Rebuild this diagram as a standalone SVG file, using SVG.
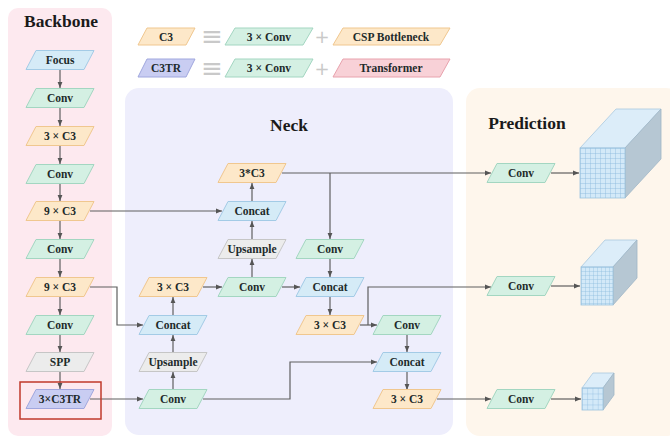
<svg xmlns="http://www.w3.org/2000/svg" xmlns:xlink="http://www.w3.org/1999/xlink" width="670" height="439" viewBox="0 0 670 439">
<style>
.panel-bb{fill:#fde9ef}
.panel-neck{fill:#eeeefc}
.panel-pred{fill:#fef6ec}
.title{font-family:"Liberation Serif","Times New Roman",serif;font-weight:bold;font-size:17.5px;fill:#1a1a1a;text-anchor:middle}
.lbl{font-family:"Liberation Serif","Times New Roman",serif;font-weight:bold;font-size:11.5px;fill:#1e2b2b;text-anchor:middle;dominant-baseline:central}
.sym{font-family:"DejaVu Sans",sans-serif;fill:#c9c9c9;text-anchor:middle;dominant-baseline:central}
.conv{fill:#d4f0e3;stroke:#a3d6c1;stroke-width:1}
.c3{fill:#fde8c9;stroke:#f0c78f;stroke-width:1}
.blue{fill:#d5ebf7;stroke:#a3cbe6;stroke-width:1}
.gray{fill:#ececec;stroke:#c6c6c6;stroke-width:1}
.c3tr{fill:#c9cdf2;stroke:#a0a7de;stroke-width:1}
.trans{fill:#f8d1d7;stroke:#e8a2ad;stroke-width:1}
.edge{fill:none;stroke:#5f5f5f;stroke-width:1.2;marker-end:url(#arr)}
.top{fill:#dcedf9;stroke:#a9c9e0;stroke-width:0.8}
.side{fill:#b6c7d3;stroke:#a0b6c6;stroke-width:0.8}
</style>
<defs>
<path id="pg" d="M-24,-9.5 H34 L24,9.5 H-34 Z"/>
<marker id="arr" viewBox="0 0 10 10" refX="10" refY="5" markerWidth="6" markerHeight="6" markerUnits="userSpaceOnUse" orient="auto">
<path d="M0,1 L10,5 L0,9 Z" fill="#555"/>
</marker>
<pattern id="gridL" x="580" y="148" width="5" height="5" patternUnits="userSpaceOnUse">
<rect width="5" height="5" fill="#d3e9f8"/>
<path d="M0,0 H5 M0,0 V5" stroke="#86b6dc" stroke-width="0.8" fill="none"/>
</pattern>
<pattern id="gridM" x="581" y="267" width="4" height="4" patternUnits="userSpaceOnUse">
<rect width="4" height="4" fill="#d3e9f8"/>
<path d="M0,0 H4 M0,0 V4" stroke="#86b6dc" stroke-width="0.7" fill="none"/>
</pattern>
<pattern id="gridS" x="582" y="388" width="5.25" height="5.5" patternUnits="userSpaceOnUse">
<rect width="5.25" height="5.5" fill="#d3e9f8"/>
<path d="M0,0 H5.25 M0,0 V5.5" stroke="#86b6dc" stroke-width="0.7" fill="none"/>
</pattern>
</defs>

<g id="panels">
<rect class="panel-bb" x="8" y="8" width="104" height="428" rx="10"/>
<rect class="panel-neck" x="125" y="88" width="328" height="347" rx="14"/>
<rect class="panel-pred" x="466" y="88" width="214" height="348" rx="14"/>
<text class="title" x="61" y="27">Backbone</text>
<text class="title" x="289" y="131">Neck</text>
<text class="title" x="527" y="129">Prediction</text>
</g>

<g id="legend">
<polygon class="c3" points="147,28 195,28 186,45 138,45"/>
<text class="lbl" x="166" y="36.5">C3</text>
<text class="sym" x="212" y="36" font-size="26">≡</text>
<polygon class="conv" points="235,28 313,28 303,45 225,45"/>
<text class="lbl" x="269" y="36.5">3 × Conv</text>
<text class="sym" x="322" y="36" font-size="18">+</text>
<polygon class="c3" points="343,28 450,28 440,45 333,45"/>
<text class="lbl" x="391" y="36.5">CSP Bottleneck</text>

<polygon class="c3tr" points="147,59 195,59 186,77 138,77"/>
<text class="lbl" x="166" y="68">C3TR</text>
<text class="sym" x="212" y="68" font-size="26">≡</text>
<polygon class="conv" points="235,59 313,59 303,77 225,77"/>
<text class="lbl" x="269" y="68">3 × Conv</text>
<text class="sym" x="322" y="68" font-size="18">+</text>
<polygon class="trans" points="343,59 450,59 440,77 333,77"/>
<text class="lbl" x="391" y="68">Transformer</text>
</g>

<g id="connectors">
<path class="edge" d="M60,70 V88"/>
<path class="edge" d="M60,108 V126"/>
<path class="edge" d="M60,146 V164"/>
<path class="edge" d="M60,184 V201"/>
<path class="edge" d="M60,221 V239"/>
<path class="edge" d="M60,259 V277"/>
<path class="edge" d="M60,297 V315"/>
<path class="edge" d="M60,335 V352"/>
<path class="edge" d="M60,372 V389"/>
<path class="edge" d="M90,211 H222"/>
<path class="edge" d="M90,287 H117 V325 H143"/>
<path class="edge" d="M90,399 H143"/>
<path class="edge" d="M173,389 V372"/>
<path class="edge" d="M173,352 V335"/>
<path class="edge" d="M173,315 V297"/>
<path class="edge" d="M203,287 H222"/>
<path class="edge" d="M252,277 V259"/>
<path class="edge" d="M252,239 V221"/>
<path class="edge" d="M252,201 V183"/>
<path class="edge" d="M282,287 H300"/>
<path class="edge" d="M282,173 H491"/>
<path class="edge" d="M330,173 V239"/>
<path class="edge" d="M330,259 V277"/>
<path class="edge" d="M330,297 V315"/>
<path class="edge" d="M360,325 H377"/>
<path class="edge" d="M368,325 V287 H491"/>
<path class="edge" d="M407,335 V352"/>
<path class="edge" d="M203,399 H290 V362 H377"/>
<path class="edge" d="M407,372 V390"/>
<path class="edge" d="M437,399 H491"/>
<path class="edge" d="M551,173 H579"/>
<path class="edge" d="M551,286 H580"/>
<path class="edge" d="M551,399 H581"/>
</g>

<g id="bb-focus"><use href="#pg" class="blue" x="60" y="60"/><text class="lbl" x="60" y="60">Focus</text></g>
<g id="bb-conv1"><use href="#pg" class="conv" x="60" y="98"/><text class="lbl" x="60" y="98">Conv</text></g>
<g id="bb-c3-1"><use href="#pg" class="c3" x="60" y="136"/><text class="lbl" x="60" y="136">3 × C3</text></g>
<g id="bb-conv2"><use href="#pg" class="conv" x="60" y="174"/><text class="lbl" x="60" y="174">Conv</text></g>
<g id="bb-c3-2"><use href="#pg" class="c3" x="60" y="211"/><text class="lbl" x="60" y="211">9 × C3</text></g>
<g id="bb-conv3"><use href="#pg" class="conv" x="60" y="249"/><text class="lbl" x="60" y="249">Conv</text></g>
<g id="bb-c3-3"><use href="#pg" class="c3" x="60" y="287"/><text class="lbl" x="60" y="287">9 × C3</text></g>
<g id="bb-conv4"><use href="#pg" class="conv" x="60" y="325"/><text class="lbl" x="60" y="325">Conv</text></g>
<g id="bb-spp"><use href="#pg" class="gray" x="60" y="362"/><text class="lbl" x="60" y="362">SPP</text></g>
<g id="bb-c3tr"><rect x="20" y="382" width="81" height="37" fill="none" stroke="#c0392b" stroke-width="1.5"/><use href="#pg" class="c3tr" x="60" y="399"/><text class="lbl" x="60" y="399">3×C3TR</text></g>

<g id="neck-c3-top"><use href="#pg" class="c3" x="252" y="173"/><text class="lbl" x="252" y="173">3*C3</text></g>
<g id="neck-concat1"><use href="#pg" class="blue" x="252" y="211"/><text class="lbl" x="252" y="211">Concat</text></g>
<g id="neck-upsample1"><use href="#pg" class="gray" x="252" y="249"/><text class="lbl" x="252" y="249">Upsample</text></g>
<g id="neck-conv-d"><use href="#pg" class="conv" x="330" y="249"/><text class="lbl" x="330" y="249">Conv</text></g>
<g id="neck-c3-e"><use href="#pg" class="c3" x="173" y="287"/><text class="lbl" x="173" y="287">3 × C3</text></g>
<g id="neck-conv-f"><use href="#pg" class="conv" x="252" y="287"/><text class="lbl" x="252" y="287">Conv</text></g>
<g id="neck-concat-g"><use href="#pg" class="blue" x="330" y="287"/><text class="lbl" x="330" y="287">Concat</text></g>
<g id="neck-concat-h"><use href="#pg" class="blue" x="173" y="325"/><text class="lbl" x="173" y="325">Concat</text></g>
<g id="neck-upsample2"><use href="#pg" class="gray" x="173" y="362"/><text class="lbl" x="173" y="362">Upsample</text></g>
<g id="neck-conv-j"><use href="#pg" class="conv" x="173" y="399"/><text class="lbl" x="173" y="399">Conv</text></g>
<g id="neck-c3-k"><use href="#pg" class="c3" x="330" y="325"/><text class="lbl" x="330" y="325">3 × C3</text></g>
<g id="neck-conv-l"><use href="#pg" class="conv" x="407" y="325"/><text class="lbl" x="407" y="325">Conv</text></g>
<g id="neck-concat-m"><use href="#pg" class="blue" x="407" y="362"/><text class="lbl" x="407" y="362">Concat</text></g>
<g id="neck-c3-n"><use href="#pg" class="c3" x="407" y="399"/><text class="lbl" x="407" y="399">3 × C3</text></g>

<g id="pred-conv1"><use href="#pg" class="conv" x="521" y="173"/><text class="lbl" x="521" y="173">Conv</text></g>
<g id="pred-conv2"><use href="#pg" class="conv" x="521" y="286"/><text class="lbl" x="521" y="286">Conv</text></g>
<g id="pred-conv3"><use href="#pg" class="conv" x="521" y="399"/><text class="lbl" x="521" y="399">Conv</text></g>

<g id="cube-large">
<polygon class="top" points="580,148 625,148 661,109 616,109"/>
<polygon class="side" points="625,148 661,109 661,159 625,198"/>
<rect x="580" y="148" width="45" height="50" fill="url(#gridL)" stroke="#9cc2de" stroke-width="0.8"/>
</g>
<g id="cube-medium">
<polygon class="top" points="581,267 613,267 637,240 605,240"/>
<polygon class="side" points="613,267 637,240 637,278 613,305"/>
<rect x="581" y="267" width="32" height="38" fill="url(#gridM)" stroke="#9cc2de" stroke-width="0.8"/>
</g>
<g id="cube-small">
<polygon class="top" points="582,388 603,388 614,373 593,373"/>
<polygon class="side" points="603,388 614,373 614,395 603,410"/>
<rect x="582" y="388" width="21" height="22" fill="url(#gridS)" stroke="#9cc2de" stroke-width="0.8"/>
</g>
</svg>
